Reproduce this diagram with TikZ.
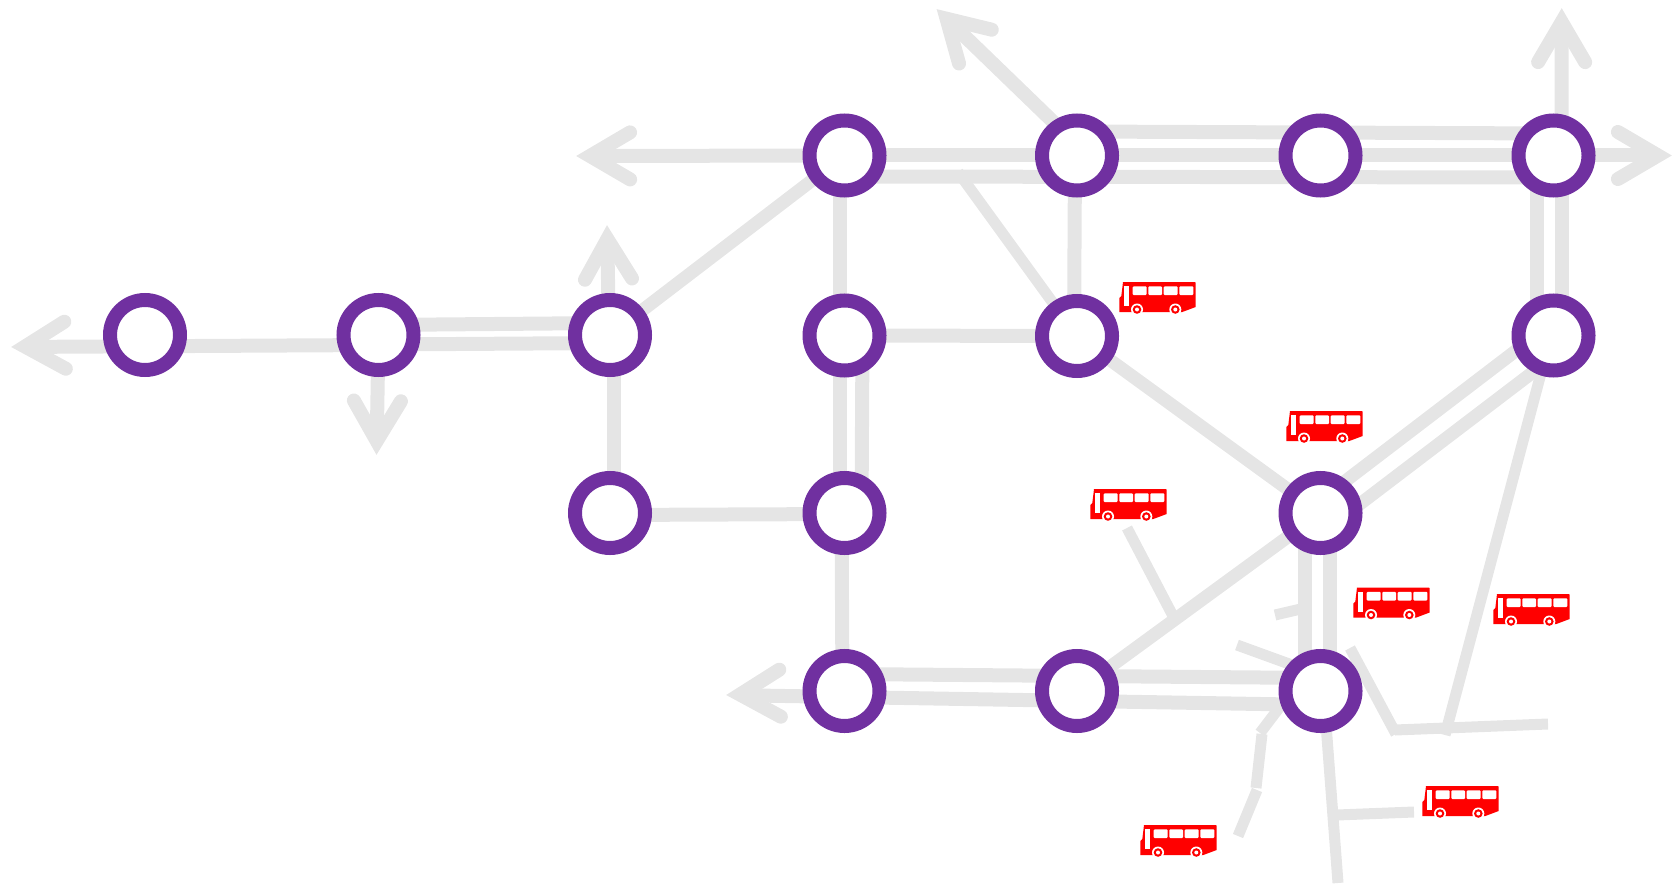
\documentclass[tikz,border=0pt]{standalone}
\usetikzlibrary{calc}
\pgfdeclarelayer{back}
\pgfsetlayers{back,main}
\definecolor{railgray}{HTML}{E5E5E5}
\definecolor{ringpurple}{HTML}{7030A0}
\definecolor{busred}{HTML}{FF0000}
\tikzset{
  x=1pt,y=-1pt,
  station/.style={circle,draw=ringpurple,line width=14pt,fill=white,minimum size=70pt,inner sep=0pt},
  rail/.style={draw=railgray,line width=14pt},
  diagrail/.style={draw=railgray,line width=13pt},
  thinrail/.style={draw=railgray,line width=11pt},
  totip/.style={shorten >=18pt},
  headline/.style={draw=railgray,line width=14pt,line cap=round,line join=miter,miter limit=10},
  pics/bus/.style={code={
    \fill[busred] (1,0) -- (73,0) -- (73.7,1) -- (73.7,25) -- (60.3,30) -- (-2.7,30) -- (-2.7,16) -- (-0.7,14) -- cycle;
    \fill[white] (2.3,4.3) rectangle (6.7,24);
    \foreach \a/\b in {10.7/24.7,26.3/40,41.7/55.7,57.3/71.3}{
      \fill[white,rounded corners=1pt] (\a,4.3) rectangle (\b,13);}
    \foreach \c in {15,53.3}{
      \fill[white] (\c,27.5) circle (6);
      \fill[busred] (\c,27.5) circle (4.3);
      \fill[white] (\c,27.5) circle (2);}
  }}
}
\newcommand{\headat}[2]{\draw[headline] ($(#1)!59pt!23.5:(#2)$) -- ($(#1)!14pt!0:(#2)$) -- ($(#1)!59pt!-23.5:(#2)$);}
\begin{document}
\begin{tikzpicture}
\useasboundingbox (0,0) rectangle (1672,885);
% stations
\node[station] (a1) at (145,335) {};
\node[station] (a2) at (378.5,335) {};
\node[station] (a3) at (610,335) {};
\node[station] (b3) at (610,513) {};
\node[station] (t4) at (844.5,155.5) {};
\node[station] (a4) at (844.5,335.5) {};
\node[station] (b4) at (844.5,513) {};
\node[station] (c4) at (844.5,691) {};
\node[station] (t5) at (1077,155.5) {};
\node[station] (a5) at (1077,336) {};
\node[station] (c5) at (1077,691) {};
\node[station] (t6) at (1320.5,155.5) {};
\node[station] (b6) at (1320.5,513) {};
\node[station] (c6) at (1320.5,691) {};
\node[station] (t7) at (1553.5,155.5) {};
\node[station] (a7) at (1553.5,335.5) {};
% free ends
\coordinate (tipW1) at (11,347);
\coordinate (tipS2) at (376.5,455);
\coordinate (tipN3) at (607,225);
\coordinate (tipW4) at (576,156);
\coordinate (tipNW) at (936.5,9);
\coordinate (tipN7) at (1561.7,8);
\coordinate (tipE7) at (1672,155.5);
\coordinate (tipWb) at (726,695);
\coordinate (fork) at (958,172);
\coordinate (stubA) at (1127,528);
\coordinate (stubB) at (1173,616);
\coordinate (stubC) at (1275,615);
\coordinate (stubD) at (1305,608);
\coordinate (stubE) at (1237,645);
\coordinate (stubF) at (1292,665);
\coordinate (brkA) at (1295,687);
\coordinate (brkB) at (1260,733);
\coordinate (brkC) at (1262,734);
\coordinate (brkD) at (1256,788);
\coordinate (brkE) at (1257,790);
\coordinate (brkF) at (1238,836);
\coordinate (southEnd) at (1338,883);
\coordinate (branchA) at (1337,815);
\coordinate (branchB) at (1414,812);
\coordinate (elbowA) at (1350,648);
\coordinate (elbowB) at (1396,734);
\coordinate (elbowC) at (1395,730);
\coordinate (elbowD) at (1548,724);
\coordinate (diagEnd) at (1445,735);
\begin{pgfonlayer}{back}
% left section
\draw[rail,totip] ($(a2.center)+(0,10)$) -- (tipW1);
\draw[rail] ($(a2.center)+(0,-10)$) -- ($(a3.center)+(0,-12)$);
\draw[rail] ($(a2.center)+(0,9.5)$) -- ($(a3.center)+(0,8)$);
\draw[rail,totip] (a2.center) -- (tipS2);
\draw[rail,totip] ($(a3.center)+(-1,0)$) -- (tipN3);
\draw[diagrail] (a3.center) -- (t4.center);
\draw[rail] ($(a3.center)+(4,0)$) -- ($(b3.center)+(4,0)$);
\draw[rail] ($(b3.center)+(0,2)$) -- ($(b4.center)+(0,1)$);
% second column
\draw[rail,totip] (t4.center) -- (tipW4);
\draw[rail,totip] (t4.center) -- (tipE7);
\draw[rail] ($(t4.center)+(0,21)$) -- ($(t7.center)+(0,22)$);
\draw[rail] ($(t5.center)+(0,-24)$) -- ($(t7.center)+(0,-22)$);
\draw[rail] ($(t4.center)+(-5,0)$) -- ($(a4.center)+(-5,0)$);
\draw[rail] ($(t5.center)+(-2,0)$) -- ($(a5.center)+(-3,0)$);
\draw[rail] (a4.center) -- (a5.center);
\draw[thinrail] (fork) -- (a5.center);
\draw[rail] ($(a4.center)+(-5,0)$) -- ($(b4.center)+(-5,0)$);
\draw[rail] ($(a4.center)+(18,0)$) -- ($(b4.center)+(17,0)$);
\draw[rail] ($(b4.center)+(-3,0)$) -- ($(c4.center)+(-2,0)$);
\draw[rail,totip] ($(t5.center)+(11,0)$) -- (tipNW);
% right section
\draw[rail,totip] ($(t7.center)+(8,0)$) -- (tipN7);
\draw[rail] ($(t7.center)+(-16.5,0)$) -- ($(a7.center)+(-16.5,0)$);
\draw[rail] ($(t7.center)+(8,0)$) -- ($(a7.center)+(8,0)$);
\draw[diagrail] (a5.center) -- (b6.center);
\draw[diagrail] ($(a7.center)+(0,-13.5)$) -- ($(b6.center)+(0,-13)$);
\draw[diagrail] ($(a7.center)+(0,21)$) -- ($(b6.center)+(0,21)$);
\draw[thinrail] ($(a7.center)+(-2.5,0)$) -- (diagEnd);
\draw[diagrail] (c5.center) -- (b6.center);
\draw[rail] ($(b6.center)+(-16,0)$) -- ($(c6.center)+(-16,0)$);
\draw[rail] ($(b6.center)+(9,0)$) -- ($(c6.center)+(9,0)$);
\draw[rail] ($(c4.center)+(0,-17)$) -- ($(c6.center)+(0,-13)$);
\draw[rail,totip] ($(c6.center)+(0,14)$) -- (tipWb);
% bottom fragments
\draw[thinrail] (stubA) -- (stubB);
\draw[thinrail] (stubC) -- (stubD);
\draw[thinrail] (stubE) -- (stubF);
\draw[thinrail] (brkA) -- (brkB);
\draw[thinrail] (brkC) -- (brkD);
\draw[thinrail] (brkE) -- (brkF);
\draw[thinrail] ($(c6.center)+(3,0)$) -- (southEnd);
\draw[thinrail] (branchA) -- (branchB);
\draw[thinrail] (elbowA) -- (elbowB);
\draw[thinrail] (elbowC) -- (elbowD);
% arrow heads
\headat{tipW1}{a2.center}
\headat{tipS2}{a2.center}
\headat{tipN3}{a3.center}
\headat{tipW4}{t4.center}
\headat{tipNW}{$(t5.center)+(11,0)$}
\headat{tipN7}{$(t7.center)+(8,0)$}
\headat{tipE7}{t7.center}
\headat{tipWb}{c4.center}
\end{pgfonlayer}
% buses
\pic at (1122,282) {bus};
\pic at (1289,411) {bus};
\pic at (1093,489) {bus};
\pic at (1356,587.5) {bus};
\pic at (1496,594) {bus};
\pic at (1425,786) {bus};
\pic at (1143,825) {bus};
\end{tikzpicture}
\end{document}
